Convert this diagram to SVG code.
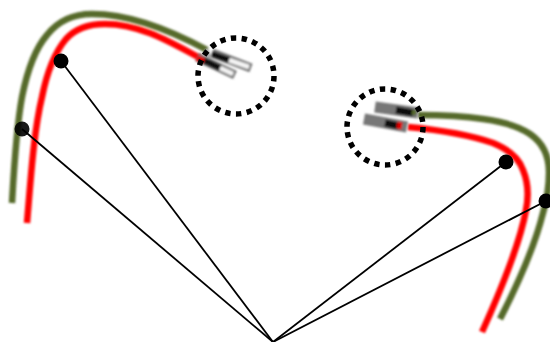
<svg xmlns="http://www.w3.org/2000/svg" width="550" height="342" viewBox="0 0 550 342">
<style>
.w{fill:none;stroke-linecap:butt;stroke-linejoin:round}
.g{stroke:#566a2c;stroke-width:6.5}
.r{stroke:#ff0000;stroke-width:6.5}
.ln{stroke:#000;stroke-width:1.8;fill:none}
.dot{fill:#000}
.ring{fill:none;stroke:#000;stroke-width:5.5;stroke-dasharray:5.4 5.45}
</style>
<defs>
<filter id="b" filterUnits="userSpaceOnUse" x="0" y="0" width="550" height="342"><feGaussianBlur stdDeviation="0.9"/></filter>
<filter id="p" filterUnits="userSpaceOnUse" x="0" y="0" width="550" height="342"><feGaussianBlur stdDeviation="1"/></filter>
</defs>
<rect width="550" height="342" fill="#fff"/>
<g id="cable-left">
<g filter="url(#b)">
<path class="w g" d="M12 203C14 168 16 130 22 97C27 72 34 50 47 35C58 21 72 14 92 14C130 14 170 30 207 50"/>
<path class="w r" d="M27 223C31 175 34 130 42 97C47 72 55 52 66 39C75 29 88 24 105 24C140 24 170 42 200 58"/>
</g>
<g id="plug-left" filter="url(#p)">
<path d="M212 53L251 68" stroke="#777" stroke-width="9"/><path d="M226 59L249 67" stroke="#f4f4f4" stroke-width="4.5"/><path d="M212 54L229 60" stroke="#111" stroke-width="6"/>
<path d="M197 57L235 75" stroke="#777" stroke-width="9"/><path d="M218 67L233 74" stroke="#f4f4f4" stroke-width="4.5"/><path d="M203 60L220 68" stroke="#111" stroke-width="6"/>
<path d="M197 58L204 61" stroke="#d00" stroke-width="6"/>
<path d="M206 49L210 58" stroke="#aaa" stroke-width="4"/>
</g>
</g>
<g id="cable-right">
<g filter="url(#b)">
<path class="w g" d="M418 115C450 115 470 117 483 119C505 122 520 127 530 134C543 143 549 155 549 172C549 190 546 203 543 213C535 245 520 280 500 319"/>
<path class="w r" d="M408 127C440 130 470 135 493 143C510 150 519 158 523 170C528 182 529 195 526 210C522 232 510 270 482 332"/>
</g>
<g id="plug-right" filter="url(#p)">
<path d="M375 107L418 113" stroke="#777" stroke-width="11"/><path d="M396 110L413 113" stroke="#111" stroke-width="7"/><path d="M412 112L416 113" stroke="#566a2c" stroke-width="5"/>
<path d="M364 119L407 127" stroke="#777" stroke-width="11"/><path d="M385 123L399 126" stroke="#111" stroke-width="7"/><path d="M397 125L402 126" stroke="#d00" stroke-width="7"/>
</g>
</g>
<g id="connectors">
<path class="ln" d="M61 61L273 342"/>
<path class="ln" d="M22 129L273 342"/>
<path class="ln" d="M506 162L273 342"/>
<path class="ln" d="M546 201L273 342"/>
</g>
<g id="node-1"><circle class="dot" cx="61" cy="61" r="7.5"/></g>
<g id="node-2"><circle class="dot" cx="22" cy="129" r="7.5" fill-opacity=".9"/></g>
<g id="node-3"><circle class="dot" cx="506" cy="162" r="7.5"/></g>
<g id="node-4"><circle class="dot" cx="546" cy="201" r="7.5"/></g>
<g id="ring-left"><circle class="ring" cx="236" cy="76" r="38"/></g>
<g id="ring-right"><circle class="ring" cx="385" cy="127" r="38"/></g>
</svg>
